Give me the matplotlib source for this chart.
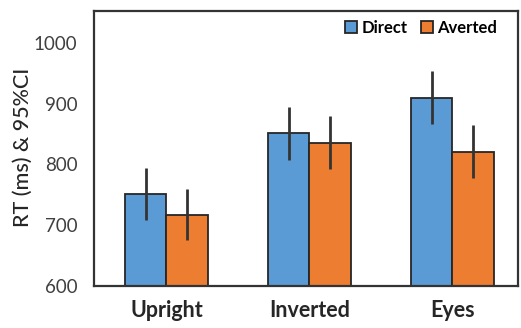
import numpy as np
import matplotlib.pyplot as plt

# === Data ===
categories = ["Upright", "Inverted", "Eyes"]
series_names = ["Direct", "Averted"]
direct_rt = [751, 851, 910]
averted_rt = [717, 836, 821]
direct_ci = [43, 43, 43]
averted_ci = [42, 43, 43]
y_ticks = [600, 700, 800, 900, 1000]

# === Style ===
BLUE = "#5B9BD5"
ORANGE = "#ED7D31"
EDGE = "#262626"
FONT = ["Lato", "DejaVu Sans"]
BAR_W = 0.29

plt.rcParams["font.family"] = FONT


def main():
    fig = plt.figure(figsize=(5.21, 3.28), dpi=100)
    ax = fig.add_axes([0.1804, 0.128, 0.8136, 0.838])

    x = np.arange(len(categories))
    ax.bar(x - BAR_W / 2, direct_rt, BAR_W, color=BLUE, edgecolor=EDGE,
           linewidth=1.3, label=series_names[0], zorder=2)
    ax.bar(x + BAR_W / 2, averted_rt, BAR_W, color=ORANGE, edgecolor=EDGE,
           linewidth=1.3, label=series_names[1], zorder=2)
    ax.errorbar(x - BAR_W / 2, direct_rt, yerr=direct_ci, fmt="none",
                ecolor="#333333", elinewidth=2, capsize=0, zorder=3)
    ax.errorbar(x + BAR_W / 2, averted_rt, yerr=averted_ci, fmt="none",
                ecolor="#333333", elinewidth=2, capsize=0, zorder=3)

    ax.set_xlim(-0.507, 2.458)
    ax.set_ylim(600, 1052)
    ax.set_yticks(y_ticks)
    ax.set_xticks(x)
    ax.set_xticklabels(categories, fontsize=15.5, fontweight="bold", color="#262626")
    ax.tick_params(axis="both", length=0)
    ax.tick_params(axis="y", labelsize=13.5, labelcolor="#404040", pad=12)
    ax.tick_params(axis="x", pad=10)

    for s in ax.spines.values():
        s.set_color("#333333")
        s.set_linewidth(1.6)

    # y label placed by hand so it sits where the reference has it
    fig.text(23 / 521, 0.55, "RT (ms) & 95%CI", rotation=90, ha="center",
             va="center", fontsize=15.5, color="#262626", fontweight="medium")

    ax.legend(loc="upper right", bbox_to_anchor=(0.975, 1.005), ncol=2,
              frameon=False, prop={"family": FONT, "weight": "bold", "size": 12},
              handlelength=0.75, handleheight=0.75, handletextpad=0.25,
              columnspacing=0.8, borderaxespad=0.2)

    fig.savefig("out.png", dpi=100)


if __name__ == "__main__":
    main()
